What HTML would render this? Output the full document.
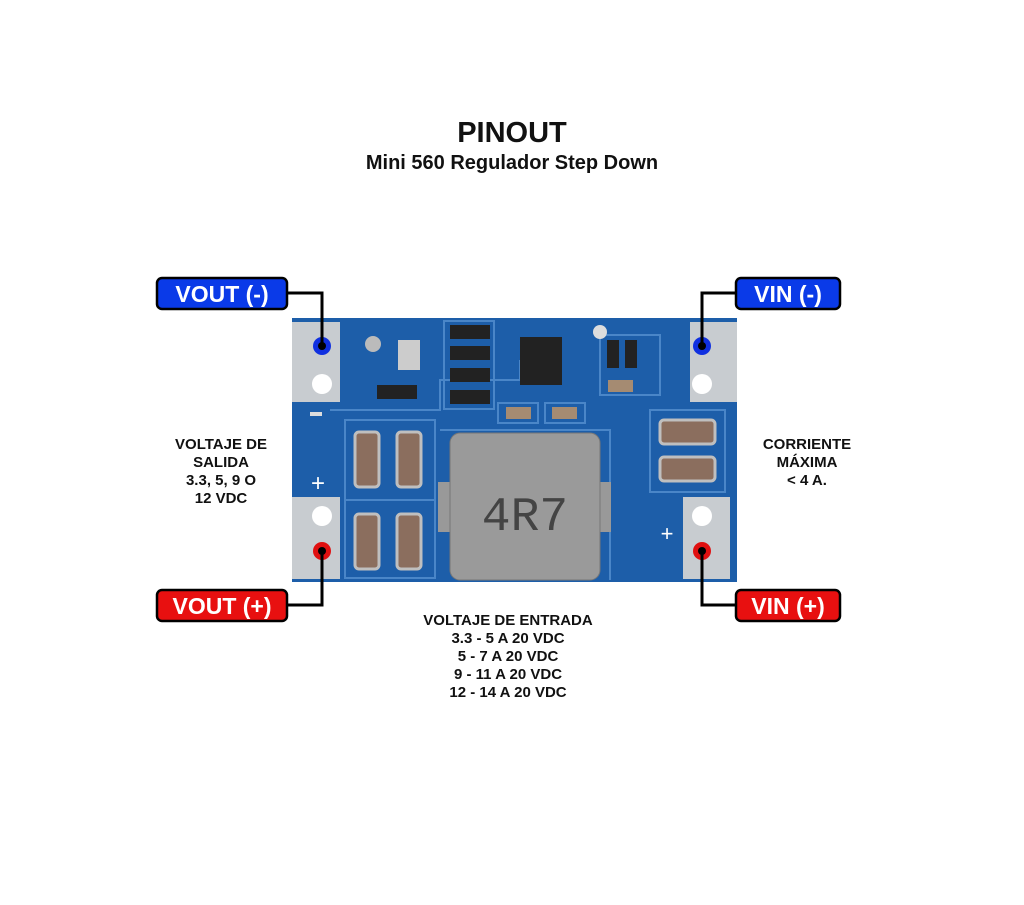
<!DOCTYPE html>
<html><head><meta charset="utf-8"><style>
body{margin:0;background:#fff;width:1024px;height:900px;overflow:hidden;font-family:"Liberation Sans",sans-serif}
</style></head><body>
<svg width="1024" height="900" viewBox="0 0 1024 900" xmlns="http://www.w3.org/2000/svg" font-family="Liberation Sans, sans-serif" font-weight="bold">
<text x="512" y="142" text-anchor="middle" font-size="29" fill="#111">PINOUT</text>
<text x="512" y="169" text-anchor="middle" font-size="20" fill="#111">Mini 560 Regulador Step Down</text>
<!-- board -->
<rect x="292" y="318" width="445" height="264" fill="#1d5ea9"/>
<g stroke="#4a86c8" stroke-width="2" fill="none">
<rect x="444" y="321" width="50" height="88"/>
<path d="M330 410 H440 V380 H520 V360"/>
<rect x="345" y="420" width="90" height="80"/><rect x="345" y="500" width="90" height="78"/>
<rect x="600" y="335" width="60" height="60"/>
<rect x="650" y="410" width="75" height="82"/>
<path d="M440 430 H610 V580"/>
<rect x="498" y="403" width="40" height="20"/><rect x="545" y="403" width="40" height="20"/>
</g>
<!-- pads left -->
<rect x="292" y="322" width="48" height="80" fill="#c8ccd0"/>
<rect x="292" y="497" width="48" height="82" fill="#c8ccd0"/>
<rect x="690" y="322" width="47" height="80" fill="#c8ccd0"/>
<rect x="683" y="497" width="47" height="82" fill="#c8ccd0"/>
<circle cx="322" cy="384" r="10" fill="#fff"/><circle cx="322" cy="516" r="10" fill="#fff"/>
<circle cx="702" cy="384" r="10" fill="#fff"/><circle cx="702" cy="516" r="10" fill="#fff"/>
<!-- caps -->
<g fill="#8b6e5e" stroke="#bfbfbf" stroke-width="3">
<rect x="355" y="432" width="24" height="55" rx="4"/><rect x="397" y="432" width="24" height="55" rx="4"/>
<rect x="355" y="514" width="24" height="55" rx="4"/><rect x="397" y="514" width="24" height="55" rx="4"/>
<rect x="660" y="420" width="55" height="24" rx="4"/><rect x="660" y="457" width="55" height="24" rx="4"/>
</g>
<!-- resistors/ic -->
<g fill="#222">
<rect x="450" y="325" width="40" height="14"/><rect x="450" y="346" width="40" height="14"/>
<rect x="450" y="368" width="40" height="14"/><rect x="450" y="390" width="40" height="14"/>
<rect x="377" y="385" width="40" height="14"/>
<rect x="520" y="337" width="42" height="48"/>
<rect x="607" y="340" width="12" height="28"/><rect x="625" y="340" width="12" height="28"/>
</g>
<rect x="506" y="407" width="25" height="12" fill="#a58b72"/><rect x="552" y="407" width="25" height="12" fill="#a58b72"/>
<rect x="608" y="380" width="25" height="12" fill="#a58b72"/>
<circle cx="600" cy="332" r="7" fill="#ddd"/>
<circle cx="373" cy="344" r="8" fill="#bbb"/>
<rect x="398" y="340" width="22" height="30" fill="#ccc"/>
<!-- inductor -->
<rect x="438" y="482" width="14" height="50" fill="#999"/><rect x="597" y="482" width="14" height="50" fill="#999"/>
<rect x="450" y="433" width="150" height="147" rx="10" fill="#9a9a9a" stroke="#777"/>
<text x="525" y="530" text-anchor="middle" font-size="48" font-weight="normal" fill="#444" font-family="Liberation Mono, monospace">4R7</text>
<text x="318" y="491" text-anchor="middle" font-size="24" fill="#fff" font-weight="normal">+</text>
<text x="667" y="541" text-anchor="middle" font-size="22" fill="#fff" font-weight="normal">+</text>
<rect x="310" y="412" width="12" height="4" fill="#ddd"/>
<!-- pins -->
<circle cx="322" cy="346" r="9" fill="#1030e0"/><circle cx="322" cy="346" r="4" fill="#000"/>
<circle cx="702" cy="346" r="9" fill="#1030e0"/><circle cx="702" cy="346" r="4" fill="#000"/>
<circle cx="322" cy="551" r="9" fill="#e01010"/><circle cx="322" cy="551" r="4" fill="#000"/>
<circle cx="702" cy="551" r="9" fill="#e01010"/><circle cx="702" cy="551" r="4" fill="#000"/>
<!-- connectors -->
<g stroke="#000" stroke-width="3" fill="none">
<path d="M287 293 H322 V346"/><path d="M736 293 H702 V346"/>
<path d="M287 605 H322 V551"/><path d="M736 605 H702 V551"/>
</g>
<!-- labels -->
<g stroke="#000" stroke-width="2.5">
<rect x="157" y="278" width="130" height="31" rx="5" fill="#0a3ae8"/>
<rect x="736" y="278" width="104" height="31" rx="5" fill="#0a3ae8"/>
<rect x="157" y="590" width="130" height="31" rx="5" fill="#e81010"/>
<rect x="736" y="590" width="104" height="31" rx="5" fill="#e81010"/>
</g>
<g fill="#fff" font-size="23" text-anchor="middle">
<text x="222" y="302">VOUT (-)</text><text x="788" y="302">VIN (-)</text>
<text x="222" y="614">VOUT (+)</text><text x="788" y="614">VIN (+)</text>
</g>
<g fill="#111" font-size="15" text-anchor="middle">
<text x="221" y="449">VOLTAJE DE</text><text x="221" y="467">SALIDA</text>
<text x="221" y="485">3.3, 5, 9 O</text><text x="221" y="503">12 VDC</text>
<text x="807" y="449">CORRIENTE</text><text x="807" y="467">MÁXIMA</text><text x="807" y="485">&lt; 4 A.</text>
<text x="508" y="625">VOLTAJE DE ENTRADA</text>
<text x="508" y="643">3.3 - 5 A 20 VDC</text>
<text x="508" y="661">5 - 7 A 20 VDC</text>
<text x="508" y="679">9 - 11 A 20 VDC</text>
<text x="508" y="697">12 - 14 A 20 VDC</text>
</g>
</svg>
</body></html>
